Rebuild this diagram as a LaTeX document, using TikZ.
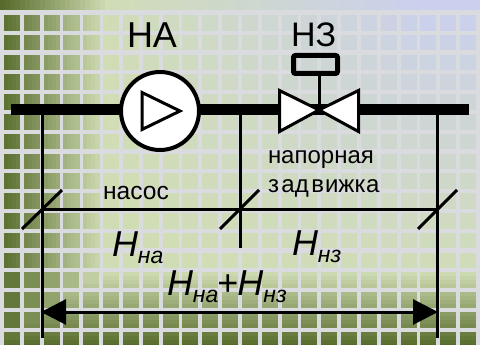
\documentclass[tikz,border=0pt]{standalone}
\usepackage{fontspec}
\setmainfont{Liberation Sans}
\usetikzlibrary{arrows.meta}
\newcommand{\bgc}[3]{%
  \pgfmathsetmacro\bgd{max(max(0,1-(#1)/105),max(0,((#2)-272)/73))}%
  \pgfmathsetmacro\bgt{min(1,max(0,((#1)-90)/330))*max(0,1-(#2)/290)}%
  \pgfmathsetmacro\bgr{(0.816-0.020*\bgt)*(1-\bgd)+0.34*\bgd}%
  \pgfmathsetmacro\bgg{(0.867-0.050*\bgt)*(1-\bgd)+0.42*\bgd}%
  \pgfmathsetmacro\bgb{(0.700+0.235*\bgt)*(1-\bgd)+0.17*\bgd}%
  \definecolor{#3}{rgb}{\bgr,\bgg,\bgb}}
\newcommand{\lblsize}[1]{\fontsize{#1}{#1}\selectfont}
\newcommand{\lblsub}[1]{\raisebox{-7pt}{\fontsize{23}{23}\selectfont #1}}
\tikzset{
  x=1pt,y=-1pt,
  pipe/.style={line width=11pt,black},
  thin line/.style={line width=3pt,black},
  label/.style={inner sep=0pt,outer sep=0pt,anchor=base west,text=black},
  valve part/.style={draw=black,fill=white,line width=3pt,miter limit=10},
  double dim/.style={thin line,{Triangle[length=25pt,width=25pt]}-{Triangle[length=25pt,width=25pt]},shorten <=-1pt,shorten >=-1pt}
}
\definecolor{gridbase}{HTML}{DADBDE}
\begin{document}
\begin{tikzpicture}
\useasboundingbox (0,0) rectangle (480,345);
\fill[gridbase] (0,0) rectangle (480,345);
\begin{scope}
\clip (0,0) rectangle (480,345);
\foreach \k in {0,...,95}{
  \pgfmathsetmacro\xa{5*\k}
  \pgfmathsetmacro\xb{5*\k+5.3}
  \bgc{\xa}{0}{cl}
  \fill[cl] (\xa,0) rectangle (\xb,10);
}
\foreach \i in {0,...,23}{
  \foreach \j in {0,...,16}{
    \pgfmathsetmacro\xa{4+19.83*\i}
    \pgfmathsetmacro\ya{15+19.8*\j}
    \pgfmathtruncatemacro\low{\ya>265?1:0}
    \pgfmathtruncatemacro\lft{\xa<110?1:0}
    \ifnum\low=1
      \foreach \s in {0,1,2,3}{
        \pgfmathsetmacro\yc{\ya+3.9*\s}
        \pgfmathsetmacro\yd{\yc+4.1}
        \bgc{\xa+8}{\yc+2}{cl}
        \fill[cl] (\xa,\yc) rectangle (\xa+16,\yd);
      }
    \else
      \ifnum\lft=1
        \foreach \s in {0,1,2,3}{
          \pgfmathsetmacro\xc{\xa+4*\s}
          \pgfmathsetmacro\xd{\xc+4.2}
          \bgc{\xc+2}{\ya+8}{cl}
          \fill[cl] (\xc,\ya) rectangle (\xd,\ya+15.6);
        }
      \else
        \bgc{\xa+8}{\ya+8}{cl}
        \fill[cl] (\xa,\ya) rectangle (\xa+16,\ya+15.6);
      \fi
    \fi
  }
}
\end{scope}

% named points
\coordinate (pipeL) at (11,109.5);
\coordinate (pipeR) at (469,109.5);
\coordinate (legLtop) at (42,110);
\coordinate (legLbot) at (42,338);
\coordinate (legMtop) at (240,110);
\coordinate (legMbot) at (240,248);
\coordinate (legRtop) at (437,110);
\coordinate (legRbot) at (437,338);
\coordinate (dimL) at (42,209.5);
\coordinate (dimR) at (437,209.5);
\coordinate (arrL) at (42,312);
\coordinate (arrR) at (437,312);
\coordinate (tickLa) at (22,229);
\coordinate (tickLb) at (62,190);
\coordinate (tickMa) at (220,229);
\coordinate (tickMb) at (259,190);
\coordinate (tickRa) at (418,229);
\coordinate (tickRb) at (457,190);
\coordinate (stemTop) at (319,76);
\coordinate (stemBot) at (319,109.5);

\draw[pipe] (pipeL) -- (pipeR);
\draw[thin line] (legLtop) -- (legLbot);
\draw[thin line] (legMtop) -- (legMbot);
\draw[thin line] (legRtop) -- (legRbot);
\draw[thin line] (dimL) -- (dimR);
\draw[thin line] (tickLa) -- (tickLb);
\draw[thin line] (tickMa) -- (tickMb);
\draw[thin line] (tickRa) -- (tickRb);
\draw[double dim] (arrL) -- (arrR);

% pump
\node[circle,draw=black,fill=white,line width=4pt,minimum size=78pt,inner sep=0pt] (pump) at (160,111) {};
\draw[draw=black,line width=3pt,miter limit=10] (142,92.5) -- (142,129.5) -- (180,111) -- cycle;

% valve
\draw[valve part] (279.5,90.5) -- (319,110) -- (279.5,131.5) -- cycle;
\draw[valve part] (358.5,90.5) -- (319,110) -- (358.5,131.5) -- cycle;
\draw[thin line] (stemTop) -- (stemBot);
\node[draw=black,line width=5pt,rounded corners=2pt,minimum width=44pt,minimum height=18pt,inner sep=0pt] (act) at (315.5,64.5) {};

% labels
\node[label] (tNA) at (127,47.5) {\lblsize{36}НА};
\node[label] (tNZ) at (291,47) {\lblsize{34}НЗ};
\node[label] (tNas) at (103,200) {\lblsize{24.6}насос};
\node[label] (tNap) at (268,164) {\lblsize{24}напорная};
\node[label] (tZad) at (268,193) {\lblsize{24}з\kern2.5pt ад\kern2.5pt в\kern1pt ижк\kern1pt а};
\node[label] (tHna) at (112,256) {\lblsize{36}\itshape Н\lblsub{на}};
\node[label] (tHnz) at (292,255) {\lblsize{36}\itshape Н\lblsub{нз}};
\node[label] (tSum) at (167,295) {\lblsize{36}\itshape Н\lblsub{на}\kern-1pt\upshape +\itshape\kern-1pt Н\lblsub{нз}};
\end{tikzpicture}
\end{document}
